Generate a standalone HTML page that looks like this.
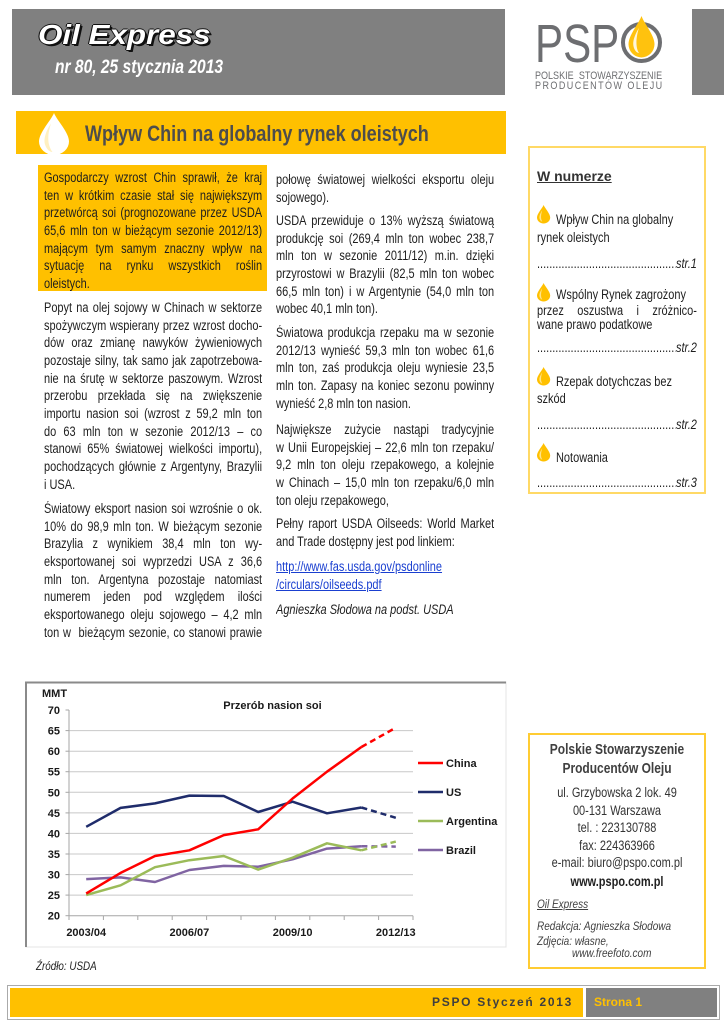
<!DOCTYPE html>
<html><head><meta charset="utf-8">
<style>
body{margin:0;padding:0;background:#fff}
#p{position:relative;width:724px;height:1024px;overflow:hidden;background:#fff;font-family:"Liberation Sans",Arial,sans-serif;color:#1e1e1e}
.a{position:absolute}
.n{transform:scaleX(.82);transform-origin:0 0;white-space:nowrap}
.col{position:absolute;width:266px;transform:scaleX(.82);transform-origin:0 0;font-size:13.4px;line-height:17.65px;color:#1e1e1e}
.col div{height:17.65px;overflow:hidden;text-align:justify;text-align-last:justify}
.col div.l{text-align-last:left}
.sb{position:absolute;font-size:13.4px;line-height:18px;transform:scaleX(.82);transform-origin:0 0;white-space:nowrap;color:#1e1e1e}
.dots{display:flex;width:195px}
.dots span{flex:1;overflow:hidden;white-space:nowrap}
.ct{position:absolute;left:528px;width:178px;text-align:center;transform:scaleX(.82);transform-origin:50% 0;white-space:nowrap;font-size:13.4px;line-height:18px;color:#333}
</style></head>
<body><div id="p">

<!-- backgrounds -->
<div class="a" style="left:12px;top:9px;width:493px;height:86px;background:#808080"></div>
<div class="a" style="left:692px;top:9px;width:32px;height:86px;background:#808080"></div>
<div class="a" style="left:16px;top:111px;width:490px;height:43px;background:#FFC000"></div>
<div class="a" style="left:38px;top:165px;width:229px;height:126px;background:#FFC000"></div>
<div class="a" style="left:528px;top:146px;width:174px;height:344px;border:2px solid #FFD966"></div>
<div class="a" style="left:528px;top:733px;width:174px;height:232px;border:2px solid #FFCC33"></div>
<div class="a" style="left:7px;top:985px;width:711px;height:33px;border:1px solid #aaa"></div>
<div class="a" style="left:10px;top:988px;width:573px;height:29px;background:#FFC000"></div>
<div class="a" style="left:586px;top:988px;width:131px;height:29px;background:#808080"></div>

<svg class="a" style="left:0;top:0" width="724" height="1024" viewBox="0 0 724 1024">
  <!-- logo O + drop -->
  <circle cx="641.5" cy="42.5" r="18.5" fill="none" stroke="#6d6e71" stroke-width="4"/>
  <g transform="translate(628.5,16) scale(1.3,1.48)">
    <path d="M10,0 C12,5 20,13 20,19 A10,9 0 0 1 0,19 C0,13 8,5 10,0 Z" fill="#FFC20E"/>
    <path d="M8,8 C4,14 3,18 4,21 C5,24 7,25 8,25 C6,22 5,17 8,8 Z" fill="#fff" opacity=".85"/>
  </g>
  <!-- title drop -->
  <g transform="translate(39,113) scale(1.5,1.5)">
    <path d="M10,0 C12,5 20,13 20,19 A10,9 0 0 1 0,19 C0,13 8,5 10,0 Z" fill="#fff"/>
    <path d="M8,7 C4,13 3,18 4,21 C5,24 7,26 9,26 C6,22 5,16 8,7 Z" fill="#FFF0C0"/>
  </g>
  <!-- sidebar drops -->
  <g transform="translate(537,205) scale(.66,.66)"><path d="M10,0 C12,5 20,13 20,19 A10,9 0 0 1 0,19 C0,13 8,5 10,0 Z" fill="#FFC000"/><path d="M8,8 C4,14 3,18 4,21 C5,24 7,25 8,25 C6,22 5,17 8,8 Z" fill="#FFE38A"/></g>
  <g transform="translate(537,283) scale(.66,.66)"><path d="M10,0 C12,5 20,13 20,19 A10,9 0 0 1 0,19 C0,13 8,5 10,0 Z" fill="#FFC000"/><path d="M8,8 C4,14 3,18 4,21 C5,24 7,25 8,25 C6,22 5,17 8,8 Z" fill="#FFE38A"/></g>
  <g transform="translate(537,367) scale(.66,.66)"><path d="M10,0 C12,5 20,13 20,19 A10,9 0 0 1 0,19 C0,13 8,5 10,0 Z" fill="#FFC000"/><path d="M8,8 C4,14 3,18 4,21 C5,24 7,25 8,25 C6,22 5,17 8,8 Z" fill="#FFE38A"/></g>
  <g transform="translate(537,443) scale(.66,.66)"><path d="M10,0 C12,5 20,13 20,19 A10,9 0 0 1 0,19 C0,13 8,5 10,0 Z" fill="#FFC000"/><path d="M8,8 C4,14 3,18 4,21 C5,24 7,25 8,25 C6,22 5,17 8,8 Z" fill="#FFE38A"/></g>

  <!-- chart frame -->
  <rect x="26" y="682" width="480" height="265" fill="#fff" stroke="#e4e4e4" stroke-width="1"/>
  <path d="M26,947 V682.5 H506" stroke="#8a8a8a" stroke-width="2" fill="none"/>
  <!-- gridlines -->
  <g stroke="#c8c8c8" stroke-width="1">
    <line x1="69" x2="413" y1="895.1" y2="895.1"/>
    <line x1="69" x2="413" y1="874.6" y2="874.6"/>
    <line x1="69" x2="413" y1="854.0" y2="854.0"/>
    <line x1="69" x2="413" y1="833.4" y2="833.4"/>
    <line x1="69" x2="413" y1="812.9" y2="812.9"/>
    <line x1="69" x2="413" y1="792.3" y2="792.3"/>
    <line x1="69" x2="413" y1="771.7" y2="771.7"/>
    <line x1="69" x2="413" y1="751.2" y2="751.2"/>
    <line x1="69" x2="413" y1="730.6" y2="730.6"/>
  </g>
  <g stroke="#a6a6a6" stroke-width="1">
    <line x1="69" x2="69" y1="710" y2="915.7"/>
    <line x1="69" x2="413" y1="915.7" y2="915.7"/>
    <line x1="65.5" x2="69" y1="710" y2="710"/>
    <line x1="65.5" x2="69" y1="730.6" y2="730.6"/>
    <line x1="65.5" x2="69" y1="751.2" y2="751.2"/>
    <line x1="65.5" x2="69" y1="771.7" y2="771.7"/>
    <line x1="65.5" x2="69" y1="792.3" y2="792.3"/>
    <line x1="65.5" x2="69" y1="812.9" y2="812.9"/>
    <line x1="65.5" x2="69" y1="833.4" y2="833.4"/>
    <line x1="65.5" x2="69" y1="854.0" y2="854.0"/>
    <line x1="65.5" x2="69" y1="874.6" y2="874.6"/>
    <line x1="65.5" x2="69" y1="895.1" y2="895.1"/>
    <line x1="65.5" x2="69" y1="915.7" y2="915.7"/>
    <line x1="69" x2="69" y1="915.7" y2="920"/>
    <line x1="103.4" x2="103.4" y1="915.7" y2="920"/>
    <line x1="137.8" x2="137.8" y1="915.7" y2="920"/>
    <line x1="172.2" x2="172.2" y1="915.7" y2="920"/>
    <line x1="206.6" x2="206.6" y1="915.7" y2="920"/>
    <line x1="241" x2="241" y1="915.7" y2="920"/>
    <line x1="275.4" x2="275.4" y1="915.7" y2="920"/>
    <line x1="309.8" x2="309.8" y1="915.7" y2="920"/>
    <line x1="344.2" x2="344.2" y1="915.7" y2="920"/>
    <line x1="378.6" x2="378.6" y1="915.7" y2="920"/>
    <line x1="413" x2="413" y1="915.7" y2="920"/>
  </g>
  <!-- series -->
  <g fill="none" stroke-width="2.5" stroke-linejoin="round">
    <polyline stroke="#8064A2" points="86.2,879.1 120.6,877.4 155.0,882.0 189.4,870.0 223.8,865.9 258.2,866.7 292.6,859.3 327.0,848.6 361.4,846.2"/>
    <polyline stroke="#8064A2" stroke-dasharray="6,4" points="361.4,846.2 395.8,846.6"/>
    <polyline stroke="#9BBB59" points="86.2,895.1 120.6,885.3 155.0,867.2 189.4,860.2 223.8,856.0 258.2,869.6 292.6,857.7 327.0,843.3 361.4,850.3"/>
    <polyline stroke="#9BBB59" stroke-dasharray="6,4" points="361.4,850.3 395.8,841.6"/>
    <polyline stroke="#1F2C6B" points="86.2,826.8 120.6,807.9 155.0,803.4 189.4,795.6 223.8,796.0 258.2,812.0 292.6,801.7 327.0,813.3 361.4,807.5"/>
    <polyline stroke="#1F2C6B" stroke-dasharray="6,4" points="361.4,807.5 395.8,817.8"/>
    <polyline stroke="#FF0000" points="86.2,893.5 120.6,872.9 155.0,856.0 189.4,850.3 223.8,835.1 258.2,829.3 292.6,798.5 327.0,771.7 361.4,747.0"/>
    <polyline stroke="#FF0000" stroke-dasharray="6,4" points="361.4,747.0 395.8,727.7"/>
  </g>
  <!-- legend -->
  <g stroke-width="2.5">
    <line x1="418" x2="443" y1="763" y2="763" stroke="#FF0000"/>
    <line x1="418" x2="443" y1="792" y2="792" stroke="#1F2C6B"/>
    <line x1="418" x2="443" y1="821" y2="821" stroke="#9BBB59"/>
    <line x1="418" x2="443" y1="850" y2="850" stroke="#8064A2"/>
  </g>
  <g font-family="Liberation Sans, Arial, sans-serif" font-weight="bold" font-size="11" fill="#1a1a1a">
    <text x="446" y="767">China</text>
    <text x="446" y="796">US</text>
    <text x="446" y="825">Argentina</text>
    <text x="446" y="854">Brazil</text>
    <text x="272.5" y="709" text-anchor="middle">Przerób nasion soi</text>
    <text x="42" y="697">MMT</text>
    <g text-anchor="end">
      <text x="60" y="714">70</text>
      <text x="60" y="734.6">65</text>
      <text x="60" y="755.2">60</text>
      <text x="60" y="775.7">55</text>
      <text x="60" y="796.3">50</text>
      <text x="60" y="816.9">45</text>
      <text x="60" y="837.4">40</text>
      <text x="60" y="858">35</text>
      <text x="60" y="878.6">30</text>
      <text x="60" y="899.1">25</text>
      <text x="60" y="919.7">20</text>
    </g>
    <g text-anchor="middle">
      <text x="86.2" y="936">2003/04</text>
      <text x="189.4" y="936">2006/07</text>
      <text x="292.6" y="936">2009/10</text>
      <text x="395.8" y="936">2012/13</text>
    </g>
  </g>
</svg>

<!-- header text -->
<div class="a" style="left:38px;top:19px;font-size:28px;line-height:32px;font-weight:bold;font-style:italic;color:#fff;transform:scaleX(1.12);transform-origin:0 0;white-space:nowrap;text-shadow:1px 1px 0 #111,2px 2px 0 #111,-1px 0 0 #111,0 -1px 0 #111,1px 0 0 #111,0 1px 0 #111">Oil Express</div>
<div class="a n" style="left:55px;top:56.5px;font-size:19px;line-height:22px;font-weight:bold;font-style:italic;color:#fff">nr 80, 25 stycznia 2013</div>

<!-- logo text -->
<div class="a" style="left:535px;top:14px;font-size:54px;line-height:60px;color:#6d6e71;transform:scaleX(.78);transform-origin:0 0;white-space:nowrap">PSP</div>
<div class="a n" style="left:535px;top:70.3px;font-size:11px;line-height:12px;color:#6d6e71;width:155px;text-align:justify;text-align-last:justify">POLSKIE STOWARZYSZENIE</div>
<div class="a n" style="left:535px;top:79.8px;font-size:11px;line-height:12px;color:#6d6e71;letter-spacing:1.75px">PRODUCENTÓW OLEJU</div>

<!-- title -->
<div class="a n" style="left:84.5px;top:119px;font-size:22px;line-height:30px;font-weight:bold;color:#4d4d4d">Wpływ Chin na globalny rynek oleistych</div>

<!-- column 1 -->
<div class="col" style="left:43.5px;top:169.2px">
<div>Gospodarczy wzrost Chin sprawił, że kraj</div>
<div>ten w krótkim czasie stał się największym</div>
<div>przetwórcą soi (prognozowane przez USDA</div>
<div>65,6 mln ton w bieżącym sezonie 2012/13)</div>
<div>mającym tym samym znaczny wpływ na</div>
<div>sytuację na rynku wszystkich roślin</div>
<div class="l">oleistych.</div>
</div>
<div class="col" style="left:43.5px;top:299.2px">
<div>Popyt na olej sojowy w Chinach w sektorze</div>
<div>spożywczym wspierany przez wzrost docho-</div>
<div>dów oraz zmianę nawyków żywieniowych</div>
<div>pozostaje silny, tak samo jak zapotrzebowa-</div>
<div>nie na śrutę w sektorze paszowym. Wzrost</div>
<div>przerobu przekłada się na zwiększenie</div>
<div>importu nasion soi (wzrost z 59,2 mln ton</div>
<div>do 63 mln ton w sezonie 2012/13 – co</div>
<div>stanowi 65% światowej wielkości importu),</div>
<div>pochodzących głównie z Argentyny, Brazylii</div>
<div class="l">i USA.</div>
</div>
<div class="col" style="left:43.5px;top:500.2px">
<div>Światowy eksport nasion soi wzrośnie o ok.</div>
<div>10% do 98,9 mln ton. W bieżącym sezonie</div>
<div>Brazylia z wynikiem 38,4 mln ton wy-</div>
<div>eksportowanej soi wyprzedzi USA z 36,6</div>
<div>mln ton. Argentyna pozostaje natomiast</div>
<div>numerem jeden pod względem ilości</div>
<div>eksportowanego oleju sojowego – 4,2 mln</div>
<div>ton w&nbsp; bieżącym sezonie, co stanowi prawie</div>
</div>

<!-- column 2 -->
<div class="col" style="left:276px;top:171.2px">
<div>połowę światowej wielkości eksportu oleju</div>
<div class="l">sojowego).</div>
</div>
<div class="col" style="left:276px;top:212.2px">
<div>USDA przewiduje o 13% wyższą światową</div>
<div>produkcję soi (269,4 mln ton wobec 238,7</div>
<div>mln ton w sezonie 2011/12) m.in. dzięki</div>
<div>przyrostowi w Brazylii (82,5 mln ton wobec</div>
<div>66,5 mln ton) i w Argentynie (54,0 mln ton</div>
<div class="l">wobec 40,1 mln ton).</div>
</div>
<div class="col" style="left:276px;top:324.2px">
<div>Światowa produkcja rzepaku ma w sezonie</div>
<div>2012/13 wynieść 59,3 mln ton wobec 61,6</div>
<div>mln ton, zaś produkcja oleju wyniesie 23,5</div>
<div>mln ton. Zapasy na koniec sezonu powinny</div>
<div class="l">wynieść 2,8 mln ton nasion.</div>
</div>
<div class="col" style="left:276px;top:421.2px">
<div>Największe zużycie nastąpi tradycyjnie</div>
<div>w Unii Europejskiej – 22,6 mln ton rzepaku/</div>
<div>9,2 mln ton oleju rzepakowego, a kolejnie</div>
<div>w Chinach – 15,0 mln ton rzepaku/6,0 mln</div>
<div class="l">ton oleju rzepakowego,</div>
</div>
<div class="col" style="left:276px;top:515.2px">
<div>Pełny raport USDA Oilseeds: World Market</div>
<div class="l">and Trade dostępny jest pod linkiem:</div>
</div>
<div class="col" style="left:276px;top:558.2px;color:#1a3fd0">
<div class="l"><u>http://www.fas.usda.gov/psdonline</u></div>
<div class="l"><u>/circulars/oilseeds.pdf</u></div>
</div>
<div class="col" style="left:276px;top:601.2px">
<div class="l"><i>Agnieszka Słodowa na podst. USDA</i></div>
</div>

<!-- sidebar -->
<div class="sb" style="left:537px;top:167.4px;font-size:14px;font-weight:bold;color:#333;transform:none"><u>W numerze</u></div>
<div class="sb" style="left:556px;top:211px">Wpływ Chin na globalny</div>
<div class="sb" style="left:537px;top:229px">rynek oleistych</div>
<div class="sb dots" style="left:537px;top:255px"><span>.................................................................................</span><i>str.1</i></div>
<div class="sb" style="left:556px;top:286px">Wspólny Rynek zagrożony</div>
<div class="sb" style="left:537px;top:302px;width:195px;text-align:justify;text-align-last:justify;white-space:normal;height:18px;overflow:hidden">przez oszustwa i zróżnico-</div>
<div class="sb" style="left:537px;top:316px">wane prawo podatkowe</div>
<div class="sb dots" style="left:537px;top:339px"><span>.................................................................................</span><i>str.2</i></div>
<div class="sb" style="left:556px;top:373px">Rzepak dotychczas bez</div>
<div class="sb" style="left:537px;top:390px">szkód</div>
<div class="sb dots" style="left:537px;top:416px"><span>.................................................................................</span><i>str.2</i></div>
<div class="sb" style="left:556px;top:449px">Notowania</div>
<div class="sb dots" style="left:537px;top:474px"><span>.................................................................................</span><i>str.3</i></div>

<!-- source -->
<div class="a n" style="left:36px;top:958px;font-size:12px;line-height:16px;font-style:italic;color:#1e1e1e">Źródło: USDA</div>

<!-- contact box -->
<div class="ct" style="top:741px;font-size:14.6px;font-weight:bold;color:#404040">Polskie Stowarzyszenie</div>
<div class="ct" style="top:760px;font-size:14.6px;font-weight:bold;color:#404040">Producentów Oleju</div>
<div class="ct" style="top:784px">ul. Grzybowska 2 lok. 49</div>
<div class="ct" style="top:802px">00-131 Warszawa</div>
<div class="ct" style="top:819px">tel. : 223130788</div>
<div class="ct" style="top:837px">fax: 224363966</div>
<div class="ct" style="top:854px">e-mail: biuro@pspo.com.pl</div>
<div class="ct" style="top:873px;font-weight:bold;color:#222">www.pspo.com.pl</div>
<div class="a n" style="left:537px;top:896px;font-size:12.2px;line-height:16px;font-style:italic;color:#404040"><u>Oil Express</u></div>
<div class="a n" style="left:537px;top:918px;font-size:12.2px;line-height:16px;font-style:italic;color:#404040">Redakcja: Agnieszka Słodowa</div>
<div class="a n" style="left:537px;top:933px;font-size:12.2px;line-height:16px;font-style:italic;color:#404040">Zdjęcia: własne,</div>
<div class="a n" style="left:572px;top:945px;font-size:12.2px;line-height:16px;font-style:italic;color:#404040">www.freefoto.com</div>

<!-- footer -->
<div class="a" style="left:300px;width:273px;top:994px;font-size:12px;line-height:16px;font-weight:bold;color:#3f3f3f;letter-spacing:1.7px;text-align:right;white-space:nowrap">PSPO Styczeń 2013</div>
<div class="a" style="left:594px;top:994px;font-size:12px;line-height:16px;font-weight:bold;color:#FFC000;white-space:nowrap">Strona 1</div>

</div></body></html>
